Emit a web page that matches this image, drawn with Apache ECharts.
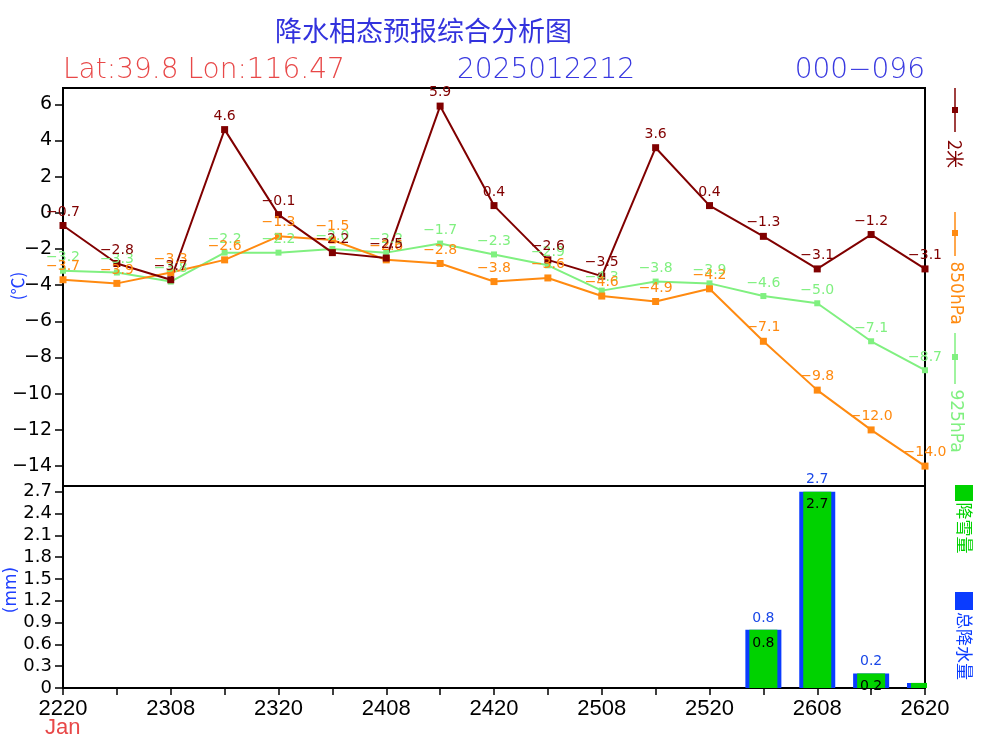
<!DOCTYPE html>
<html>
<head>
<meta charset="utf-8">
<script src="https://cdn.jsdelivr.net/npm/echarts@6/dist/echarts.min.js"></script>
<style>html,body{margin:0;padding:0;background:#fff;}#c{width:1000px;height:750px;}</style>
</head>
<body>
<div id="c"></div>
<script>
const categories = ['2220','2302','2308','2314','2320','2402','2408','2414','2420','2502','2508','2514','2520','2602','2608','2614','2620'];
const t2m  = [-0.7,-2.8,-3.7,4.6,-0.1,-2.2,-2.5,5.9,0.4,-2.6,-3.5,3.6,0.4,-1.3,-3.1,-1.2,-3.1];
const t850 = [-3.7,-3.9,-3.3,-2.6,-1.3,-1.5,-2.6,-2.8,-3.8,-3.6,-4.6,-4.9,-4.2,-7.1,-9.8,-12.0,-14.0];
const t925 = [-3.2,-3.3,-3.8,-2.2,-2.2,-2.0,-2.2,-1.7,-2.3,-2.9,-4.3,-3.8,-3.9,-4.6,-5.0,-7.1,-8.7];
const totalPrecip = [0,0,0,0,0,0,0,0,0,0,0,0,0,0.8,2.7,0.2,0.07];
const snowfall    = [0,0,0,0,0,0,0,0,0,0,0,0,0,0.8,2.7,0.2,0.07];
const tempTicks = [-14,-12,-10,-8,-6,-4,-2,0,2,4,6];
const precipTicks = [0,0.3,0.6,0.9,1.2,1.5,1.8,2.1,2.4,2.7];

const C2M = '#800000', C850 = '#ff8a10', C925 = '#80f080';
const CBLUE = '#0a3cff', CGREEN = '#00d200';
const F = 'DejaVu Sans';
const fmt = v => (v < 0 ? '\u2212' : '') + Math.abs(v).toFixed(1);

function lineSeries(name, data, color, size) {
  return {
    name, type: 'line', xAxisIndex: 0, yAxisIndex: 0, data,
    symbol: 'rect', symbolSize: size,
    lineStyle: {color, width: 2}, itemStyle: {color},
    label: {show: true, position: 'top', distance: 3, color, fontFamily: F, fontSize: 14,
      formatter: p => fmt(p.value)},
    z: 3
  };
}

const chart = echarts.init(document.getElementById('c'), null, {renderer: 'canvas'});
const option = {
  animation: false,
  backgroundColor: '#fff',
  grid: [
    {left: 63, top: 88, width: 862, height: 398, show: true, borderColor: '#000', borderWidth: 2, backgroundColor: 'transparent'},
    {left: 63, top: 486, width: 862, height: 202, show: true, borderColor: '#000', borderWidth: 2, backgroundColor: 'transparent'}
  ],
  xAxis: [
    {type: 'category', gridIndex: 0, data: categories, boundaryGap: false,
      axisLine: {show: false}, axisTick: {show: false}, axisLabel: {show: false}, splitLine: {show: false}},
    {type: 'category', gridIndex: 1, data: categories, boundaryGap: false,
      axisLine: {show: true, lineStyle: {color: '#000', width: 2}},
      axisTick: {show: true, interval: 0, length: 7, lineStyle: {color: '#000', width: 1.5}},
      axisLabel: {show: true, interval: 1, color: '#000', fontFamily: 'Liberation Sans', fontSize: 22, margin: 10, showMinLabel: true, showMaxLabel: true},
      splitLine: {show: false}},
    {type: 'category', gridIndex: 1, data: categories, boundaryGap: false, show: false}
  ],
  yAxis: [
    {type: 'value', gridIndex: 0, min: -15.1, max: 6.9,
      axisLine: {show: true, lineStyle: {color: '#000', width: 2}},
      axisTick: {show: true, length: 8, lineStyle: {color: '#000', width: 1.5}, customValues: tempTicks},
      axisLabel: {color: '#000', fontFamily: F, fontSize: 19, margin: 11, customValues: tempTicks,
        formatter: v => (v < 0 ? '\u2212' : '') + Math.abs(v)},
      splitLine: {show: false}},
    {type: 'value', gridIndex: 1, min: 0, max: 2.78,
      axisLine: {show: true, lineStyle: {color: '#000', width: 2}},
      axisTick: {show: true, length: 8, lineStyle: {color: '#000', width: 1.5}, customValues: precipTicks},
      axisLabel: {color: '#000', fontFamily: F, fontSize: 18, margin: 11, customValues: precipTicks,
        formatter: v => v === 0 ? '0' : v.toFixed(1)},
      splitLine: {show: false}}
  ],
  series: [
    lineSeries('925hPa', t925, C925, 6),
    lineSeries('850hPa', t850, C850, 7),
    lineSeries('2米', t2m, C2M, 7),
    {name: '总降水量', type: 'bar', xAxisIndex: 1, yAxisIndex: 1, data: totalPrecip.map(v => v > 0 ? v : null),
      barWidth: 36, itemStyle: {color: CBLUE}, clip: true,
      label: {show: true, position: 'top', distance: 5, color: '#1a48e8', fontFamily: F, fontSize: 14,
        formatter: p => p.value >= 0.1 ? p.value.toFixed(1) : ''}, z: 2},
    {name: '降雪量', type: 'bar', xAxisIndex: 2, yAxisIndex: 1, data: snowfall.map(v => v > 0 ? v : null),
      barWidth: 28, itemStyle: {color: CGREEN}, clip: true,
      label: {show: true, position: 'insideTop', distance: 6, color: '#000', fontFamily: F, fontSize: 14,
        formatter: p => p.value >= 0.1 ? p.value.toFixed(1) : ''}, z: 3}
  ],
  graphic: [
    {type: 'text', left: 275, top: 17, style: {text: '降水相态预报综合分析图', fill: '#3333dd', font: '27px "Noto Sans CJK SC"'}},
    {type: 'text', left: 63, top: 57, style: {text: 'Lat:39.8 Lon:116.47', fill: '#e84848', font: '200 28px "DejaVu Sans"'}},
    {type: 'text', left: 457, top: 57, style: {text: '2025012212', fill: '#3838e0', font: '200 28px "DejaVu Sans"'}},
    {type: 'text', right: 75, top: 57, style: {text: '000\u2212096', fill: '#3838e0', font: '200 28px "DejaVu Sans"'}},
    // mask bar overflow beyond right border of lower plot
    {type: 'rect', z: 100, shape: {x: 927, y: 486, width: 24, height: 205}, style: {fill: '#fff'}},
    // y axis names
    {type: 'text', x: 18, y: 286, rotation: Math.PI/2, style: {text: '(℃)', fill: '#2040ff', font: '17px "Noto Sans CJK SC"', align: 'center', verticalAlign: 'middle'}},
    {type: 'text', x: 12, y: 590, rotation: Math.PI/2, style: {text: '(mm)', fill: '#2040ff', font: '17px "DejaVu Sans"', align: 'center', verticalAlign: 'middle'}},
    {type: 'text', left: 45, top: 717, style: {text: 'Jan', fill: '#e84848', font: '22px "Liberation Sans"'}},
    // right legends: 2米
    {type: 'line', shape: {x1: 955, y1: 88, x2: 955, y2: 132}, style: {stroke: C2M, lineWidth: 1.5}},
    {type: 'rect', shape: {x: 952, y: 107, width: 6, height: 6}, style: {fill: C2M}},
    {type: 'text', x: 955, y: 154, rotation: -Math.PI/2, style: {text: '2米', fill: C2M, font: '18px "Noto Sans CJK SC"', align: 'center', verticalAlign: 'middle'}},
    // 850
    {type: 'line', shape: {x1: 955, y1: 212, x2: 955, y2: 256}, style: {stroke: C850, lineWidth: 1.5}},
    {type: 'rect', shape: {x: 952, y: 230, width: 6, height: 6}, style: {fill: C850}},
    {type: 'text', x: 955, y: 293, rotation: -Math.PI/2, style: {text: '850hPa', fill: C850, font: '17px "DejaVu Sans"', align: 'center', verticalAlign: 'middle'}},
    // 925
    {type: 'line', shape: {x1: 955, y1: 333, x2: 955, y2: 384}, style: {stroke: C925, lineWidth: 1.5}},
    {type: 'rect', shape: {x: 952, y: 354, width: 6, height: 6}, style: {fill: C925}},
    {type: 'text', x: 955, y: 421, rotation: -Math.PI/2, style: {text: '925hPa', fill: C925, font: '17px "DejaVu Sans"', align: 'center', verticalAlign: 'middle'}},
    // precip legends
    {type: 'rect', shape: {x: 955, y: 485, width: 18, height: 16}, style: {fill: CGREEN}},
    {type: 'text', x: 964, y: 528, rotation: -Math.PI/2, style: {text: '降雪量', fill: CGREEN, font: '17px "Noto Sans CJK SC"', align: 'center', verticalAlign: 'middle'}},
    {type: 'rect', shape: {x: 955, y: 592, width: 18, height: 18}, style: {fill: CBLUE}},
    {type: 'text', x: 964, y: 646, rotation: -Math.PI/2, style: {text: '总降水量', fill: CBLUE, font: '17px "Noto Sans CJK SC"', align: 'center', verticalAlign: 'middle'}}
  ]
};
chart.setOption(option);
</script>
</body>
</html>
